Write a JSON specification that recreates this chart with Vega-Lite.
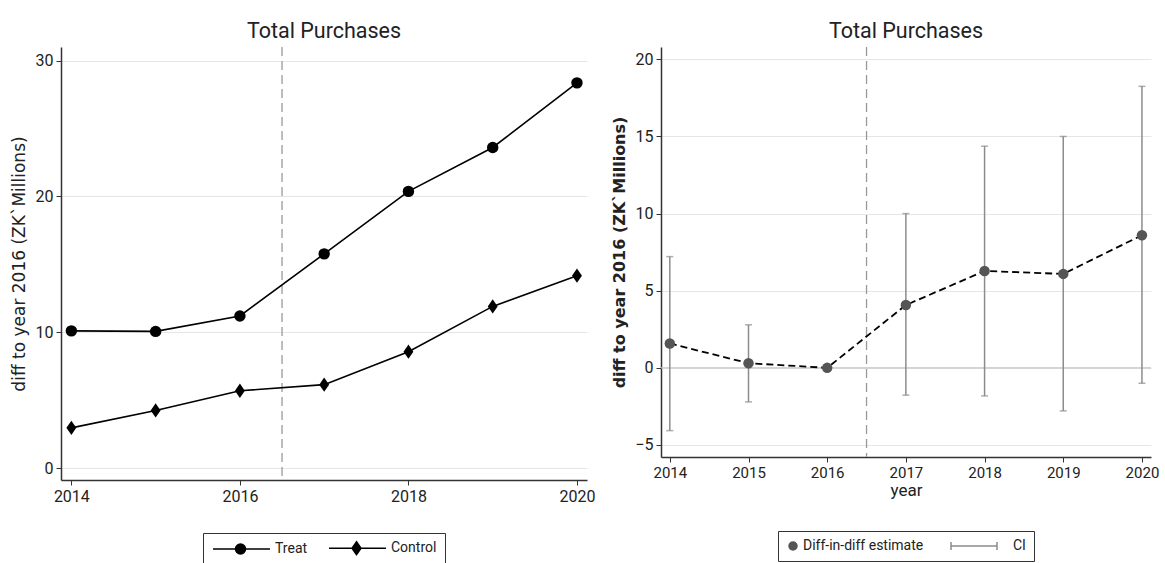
{
  "$schema": "https://vega.github.io/schema/vega-lite/v6.json",
  "background": "white",
  "padding": {"left": 10, "top": 20, "right": 0, "bottom": 0},
  "datasets": {
    "groups": [
      {"year": 2014, "group": "Treat", "value": 10.1},
      {"year": 2015, "group": "Treat", "value": 10.06},
      {"year": 2016, "group": "Treat", "value": 11.2},
      {"year": 2017, "group": "Treat", "value": 15.77},
      {"year": 2018, "group": "Treat", "value": 20.37},
      {"year": 2019, "group": "Treat", "value": 23.6},
      {"year": 2020, "group": "Treat", "value": 28.36},
      {"year": 2014, "group": "Control", "value": 2.96},
      {"year": 2015, "group": "Control", "value": 4.24},
      {"year": 2016, "group": "Control", "value": 5.69},
      {"year": 2017, "group": "Control", "value": 6.14},
      {"year": 2018, "group": "Control", "value": 8.57},
      {"year": 2019, "group": "Control", "value": 11.9},
      {"year": 2020, "group": "Control", "value": 14.16}
    ],
    "did": [
      {"year": 2014, "est": 1.58, "lo": -4.07, "hi": 7.21},
      {"year": 2015, "est": 0.3, "lo": -2.21, "hi": 2.79},
      {"year": 2016, "est": 0, "lo": null, "hi": null},
      {"year": 2017, "est": 4.07, "lo": -1.77, "hi": 10.0},
      {"year": 2018, "est": 6.28, "lo": -1.82, "hi": 14.37},
      {"year": 2019, "est": 6.09, "lo": -2.79, "hi": 15.0},
      {"year": 2020, "est": 8.6, "lo": -1.0, "hi": 18.25}
    ],
    "groupkeys": [
      {"group": "Treat"},
      {"group": "Control"}
    ],
    "keys": [
      {"key": "Diff-in-diff estimate"},
      {"key": "CI"}
    ]
  },
  "config": {
    "font": "Roboto",
    "view": {"stroke": null},
    "title": {"fontSize": 21.5, "fontWeight": "normal", "color": "#222", "offset": 4, "font": "Roboto"},
    "axis": {
      "domainColor": "#333",
      "domainWidth": 1.5,
      "tickColor": "#333",
      "tickSize": 5,
      "labelFont": "Roboto",
      "labelFontSize": 16,
      "labelColor": "#222",
      "labelPadding": 3,
      "titleFont": "DejaVu Sans",
      "titleFontSize": 17,
      "titleColor": "#222",
      "titleFontWeight": "normal",
      "gridColor": "#e6e6e6",
      "gridWidth": 1
    },
    "axisX": {"grid": false},
    "legend": {
      "orient": "bottom",
      "direction": "horizontal",
      "layout": {"bottom": {"anchor": "middle"}},
      "strokeColor": "#333",
      "fillColor": "white",
      "padding": 8,
      "labelFont": "Roboto",
      "labelFontSize": 14,
      "labelColor": "#222",
      "symbolOpacity": 1
    }
  },
  "spacing": 16,
  "resolve": {
    "scale": {"shape": "independent", "color": "independent", "stroke": "independent"},
    "legend": {"shape": "independent", "color": "independent", "stroke": "independent"}
  },
  "hconcat": [
    {
      "width": 526,
      "height": 433,
      "title": "Total Purchases",
      "layer": [
        {
          "data": {"values": [{}]},
          "mark": {"type": "rule", "color": "#999", "strokeDash": [9, 5], "strokeWidth": 1.3},
          "encoding": {"x": {"datum": 2016.5, "type": "quantitative"}}
        },
        {
          "data": {"name": "groups"},
          "mark": {"type": "line", "color": "black", "strokeWidth": 1.6},
          "encoding": {
            "x": {
              "field": "year", "type": "quantitative",
              "scale": {"domain": [2013.877, 2020.119], "nice": false, "zero": false},
              "axis": {"values": [2014, 2016, 2018, 2020], "format": "d", "title": null}
            },
            "y": {
              "field": "value", "type": "quantitative",
              "scale": {"domain": [-0.88, 31.0], "nice": false, "zero": false},
              "axis": {"values": [0, 10, 20, 30], "grid": true, "title": "diff to year 2016 (ZK`Millions)", "titlePadding": 7}
            },
            "detail": {"field": "group"}
          }
        },
        {
          "data": {"name": "groups"},
          "transform": [{"filter": "datum.group == 'Treat'"}],
          "mark": {"type": "point", "shape": "circle", "filled": true, "color": "black", "opacity": 1, "size": 130},
          "encoding": {
            "x": {"field": "year", "type": "quantitative"},
            "y": {"field": "value", "type": "quantitative"}
          }
        },
        {
          "data": {"name": "groups"},
          "transform": [{"filter": "datum.group == 'Control'"}],
          "mark": {"type": "point", "shape": "M0,-1.3L0.9,0L0,1.3L-0.9,0Z", "filled": true, "color": "black", "opacity": 1, "size": 121},
          "encoding": {
            "x": {"field": "year", "type": "quantitative"},
            "y": {"field": "value", "type": "quantitative"}
          }
        },
        {
          "data": {"name": "groupkeys"},
          "mark": {"type": "point", "filled": true, "opacity": 0, "size": 100, "strokeWidth": 1.5},
          "encoding": {
            "shape": {
              "field": "group", "type": "nominal",
              "scale": {
                "domain": ["Treat", "Control"],
                "range": ["M-1,0H10.4M5.5,0A1,1 0 1,1 3.5,0A1,1 0 1,1 5.5,0Z", "M-1,0H10.4M4.5,-1.3L5.4,0L4.5,1.3L3.6,0Z"]
              },
              "legend": {
                "title": null,
                "offset": 29,
                "symbolSize": 100,
                "symbolStrokeWidth": 1.5,
                "labelOffset": 50,
                "columnPadding": 18
              }
            },
            "color": {
              "field": "group", "type": "nominal",
              "scale": {"domain": ["Treat", "Control"], "range": ["black", "black"]},
              "legend": {
                "title": null,
                "offset": 29,
                "symbolSize": 100,
                "symbolStrokeWidth": 1.5,
                "labelOffset": 50,
                "columnPadding": 18
              }
            },
            "stroke": {
              "field": "group", "type": "nominal",
              "scale": {"domain": ["Treat", "Control"], "range": ["black", "black"]},
              "legend": {
                "title": null,
                "offset": 29,
                "symbolSize": 100,
                "symbolStrokeWidth": 1.5,
                "labelOffset": 50,
                "columnPadding": 18
              }
            }
          }
        }
      ]
    },
    {
      "width": 490,
      "height": 410,
      "title": "Total Purchases",
      "layer": [
        {
          "data": {"values": [{}]},
          "mark": {"type": "rule", "color": "#c4c4c4", "strokeWidth": 1.2},
          "encoding": {"y": {"datum": 0, "type": "quantitative"}}
        },
        {
          "data": {"values": [{}]},
          "mark": {"type": "rule", "color": "#999", "strokeDash": [9, 5], "strokeWidth": 1.3},
          "encoding": {"x": {"datum": 2016.5, "type": "quantitative"}}
        },
        {
          "data": {"name": "did"},
          "mark": {"type": "rule", "strokeWidth": 1.5, "color": "#8c8c8c"},
          "encoding": {
            "x": {
              "field": "year", "type": "quantitative",
              "scale": {"domain": [2013.888, 2020.115], "nice": false, "zero": false},
              "axis": {"values": [2014, 2015, 2016, 2017, 2018, 2019, 2020], "format": "d", "labelFontSize": 15, "title": "year", "titleFont": "Roboto", "titleFontSize": 17, "titleFontWeight": "normal", "titlePadding": 2}
            },
            "y": {
              "field": "lo", "type": "quantitative",
              "scale": {"domain": [-5.78, 20.8], "nice": false, "zero": false},
              "axis": {"values": [-5, 0, 5, 10, 15, 20], "grid": true, "title": "diff to year 2016 (ZK`Millions)", "titleFontWeight": "bold", "titleFontSize": 16, "titlePadding": 7}
            },
            "y2": {"field": "hi"}
          }
        },
        {
          "data": {"name": "did"},
          "mark": {"type": "tick", "orient": "horizontal", "size": 7, "thickness": 1.5, "color": "#8c8c8c"},
          "encoding": {
            "x": {"field": "year", "type": "quantitative"},
            "y": {"field": "lo", "type": "quantitative"}
          }
        },
        {
          "data": {"name": "did"},
          "mark": {"type": "tick", "orient": "horizontal", "size": 7, "thickness": 1.5, "color": "#8c8c8c"},
          "encoding": {
            "x": {"field": "year", "type": "quantitative"},
            "y": {"field": "hi", "type": "quantitative"}
          }
        },
        {
          "data": {"name": "did"},
          "mark": {"type": "line", "color": "black", "strokeWidth": 1.8, "strokeDash": [7, 4]},
          "encoding": {
            "x": {"field": "year", "type": "quantitative"},
            "y": {"field": "est", "type": "quantitative"}
          }
        },
        {
          "data": {"name": "did"},
          "mark": {"type": "point", "shape": "circle", "filled": true, "color": "#555555", "opacity": 1, "size": 110},
          "encoding": {
            "x": {"field": "year", "type": "quantitative"},
            "y": {"field": "est", "type": "quantitative"}
          }
        },
        {
          "data": {"name": "keys"},
          "mark": {"type": "point", "filled": true, "opacity": 0, "size": 64, "strokeWidth": 1.5},
          "encoding": {
            "shape": {
              "field": "key", "type": "nominal",
              "scale": {"domain": ["Diff-in-diff estimate", "CI"], "range": ["circle", "M-13,-1V1M-13,0H-1.5M-1.5,-1V1"]},
              "legend": {
                "title": null,
                "offset": 33,
                "symbolSize": 64,
                "symbolStrokeWidth": 1.5,
                "labelOffset": 3,
                "columnPadding": 24
              }
            },
            "color": {
              "field": "key", "type": "nominal",
              "scale": {"domain": ["Diff-in-diff estimate", "CI"], "range": ["#555555", "#8c8c8c"]},
              "legend": {
                "title": null,
                "offset": 33,
                "symbolSize": 64,
                "symbolStrokeWidth": 1.5,
                "labelOffset": 3,
                "columnPadding": 24
              }
            },
            "stroke": {
              "field": "key", "type": "nominal",
              "scale": {"domain": ["Diff-in-diff estimate", "CI"], "range": ["#555555", "#8c8c8c"]},
              "legend": {
                "title": null,
                "offset": 33,
                "symbolSize": 64,
                "symbolStrokeWidth": 1.5,
                "labelOffset": 3,
                "columnPadding": 24
              }
            }
          }
        }
      ]
    }
  ]
}
